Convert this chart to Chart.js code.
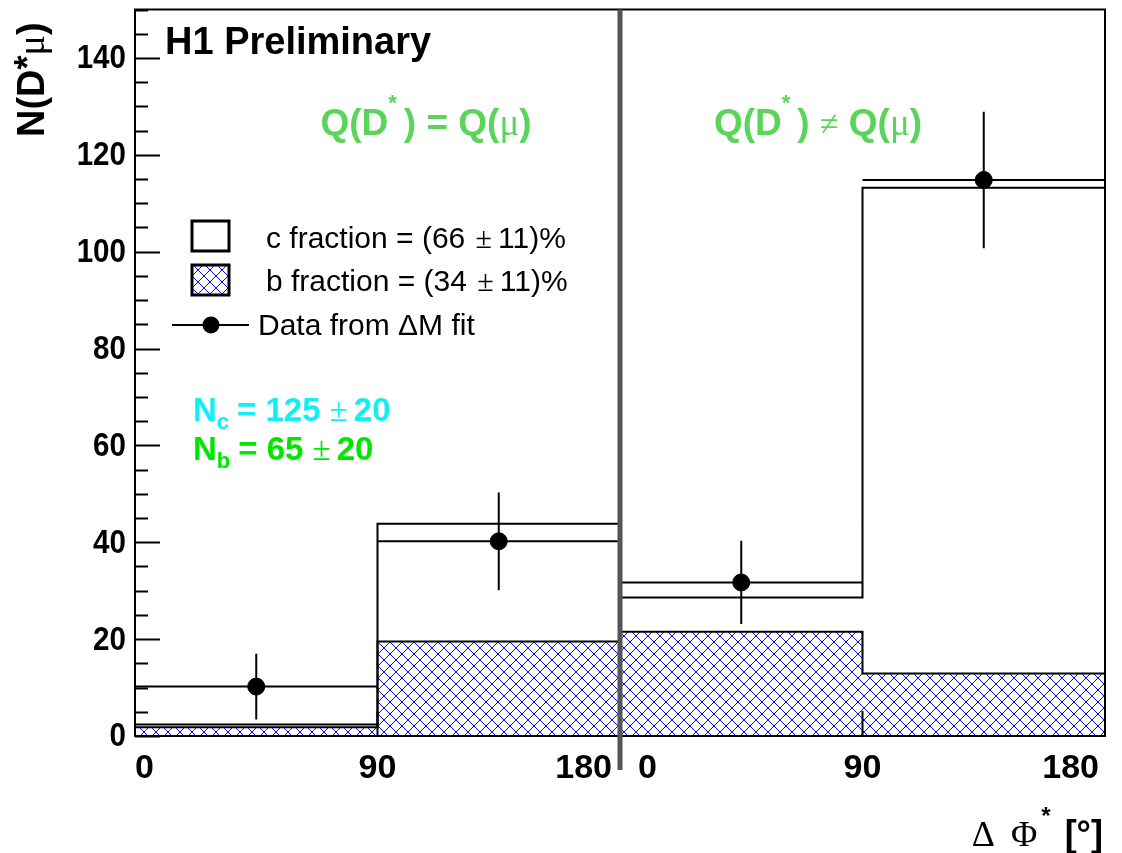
<!DOCTYPE html>
<html>
<head>
<meta charset="utf-8">
<script src="https://cdn.jsdelivr.net/npm/chart.js@4.4.1/dist/chart.umd.min.js"></script>
<style>
  html, body { margin: 0; padding: 0; background: #fff; }
  #wrap { width: 1122px; height: 853px; }
</style>
</head>
<body>
<div id="wrap"><canvas id="dphiChart" width="1122" height="853"></canvas></div>
<script>
// Two panes side by side: Q(D*) = Q(mu) on 0..180, Q(D*) != Q(mu) on 180..360
const binEdges = [0, 90, 180, 270, 360];
const binCenters = [45, 135, 225, 315];
const totalCB = [2.4, 43.8, 28.6, 113.2];   // c + b histogram
const bOnly = [1.8, 19.5, 21.5, 12.9];      // b histogram (hatched)
const dataY = [10.2, 40.2, 31.7, 114.8];    // data from Delta M fit
const dataErr = [6.8, 10.1, 8.6, 14.1];
const xTickVals = [0, 90, 180];
const yTickVals = [0, 20, 40, 60, 80, 100, 120, 140];

const SANS = '"Liberation Sans", Arial, Helvetica, sans-serif';
const SERIF = '"Liberation Serif", "Times New Roman", serif';

// blue cross hatch like ROOT fill style 3144
function makeHatch() {
  const c = document.createElement("canvas");
  c.width = 12;
  c.height = 12;
  const g = c.getContext("2d");
  g.strokeStyle = "#0a0aff";
  g.lineWidth = 1;
  g.beginPath();
  g.moveTo(0, 0); g.lineTo(12, 12);
  g.moveTo(0, 12); g.lineTo(12, 0);
  g.stroke();
  return g.createPattern(c, "repeat");
}
const hatch = makeHatch();

// step points at bin edges, last edge repeats last value
function stepPoints(vals) {
  return binEdges.map((x, i) => ({ x: x, y: vals[Math.min(i, vals.length - 1)] }));
}

// draw a run of text pieces with different fonts / offsets
function drawRich(ctx, x, y, runs, align) {
  let w = 0;
  runs.forEach((r) => {
    ctx.font = r.font;
    w += ctx.measureText(r.t).width + (r.gap || 0);
  });
  let cx = align === "center" ? x - w / 2 : align === "right" ? x - w : x;
  runs.forEach((r) => {
    ctx.font = r.font;
    ctx.fillStyle = r.color || "#000";
    ctx.textAlign = "left";
    ctx.textBaseline = "alphabetic";
    ctx.fillText(r.t, cx, y + (r.dy || 0));
    cx += ctx.measureText(r.t).width + (r.gap || 0);
  });
}

const decorPlugin = {
  id: "decor",
  beforeDatasetDraw(chart, args) {
    if (args.index !== 2) return;
    // error bars under the markers
    const { ctx, scales: { x, y } } = chart;
    ctx.save();
    ctx.strokeStyle = "#000";
    ctx.lineWidth = 2;
    ctx.beginPath();
    binCenters.forEach((c, i) => {
      const px = x.getPixelForValue(c);
      const py = y.getPixelForValue(dataY[i]);
      ctx.moveTo(x.getPixelForValue(binEdges[i]), py);
      ctx.lineTo(x.getPixelForValue(binEdges[i + 1]), py);
      ctx.moveTo(px, y.getPixelForValue(dataY[i] + dataErr[i]));
      ctx.lineTo(px, y.getPixelForValue(dataY[i] - dataErr[i]));
    });
    ctx.stroke();
    ctx.restore();
  },
  afterDraw(chart) {
    const { ctx, chartArea: a, scales: { x, y } } = chart;
    ctx.save();

    // frame
    ctx.strokeStyle = "#000";
    ctx.lineWidth = 2;
    ctx.strokeRect(a.left, a.top, a.right - a.left, a.bottom - a.top);

    // y ticks: major every 20, minor every 5
    ctx.beginPath();
    for (let v = 0; v <= 150; v += 5) {
      const py = Math.round(y.getPixelForValue(v)) + 0.5;
      const len = v % 20 === 0 ? 25 : 13;
      ctx.moveTo(a.left, py);
      ctx.lineTo(a.left + len, py);
    }
    // x ticks in each pane
    [0, 180].forEach((off) => {
      xTickVals.forEach((t) => {
        const px = x.getPixelForValue(off + t);
        ctx.moveTo(px, a.bottom);
        ctx.lineTo(px, a.bottom - 25);
      });
    });
    ctx.stroke();

    // y tick labels (a bit narrow, like the original)
    ctx.fillStyle = "#000";
    ctx.font = "bold 34px " + SANS;
    ctx.textAlign = "right";
    ctx.textBaseline = "middle";
    yTickVals.forEach((v) => {
      ctx.save();
      ctx.translate(a.left - 9, y.getPixelForValue(v) + 1);
      ctx.scale(0.87, 1);
      ctx.fillText(String(v), 0, 0);
      ctx.restore();
    });

    // x tick labels
    ctx.font = "bold 34px " + SANS;
    ctx.textBaseline = "alphabetic";
    [0, 180].forEach((off) => {
      xTickVals.forEach((t) => {
        const px = x.getPixelForValue(off + t);
        ctx.textAlign = t === 0 ? "left" : t === 180 ? "right" : "center";
        let dx = 0;
        if (t === 0) dx = off === 0 ? 0 : 18;
        if (t === 180) dx = off === 0 ? -8 : -6;
        ctx.fillText(String(t), px + dx, 778);
      });
    });

    // pane divider
    const mid = x.getPixelForValue(180);
    ctx.fillStyle = "#555";
    ctx.fillRect(mid - 2.5, a.top, 5, 770 - a.top);

    // axis titles
    ctx.save();
    ctx.translate(44, 137);
    ctx.rotate(-Math.PI / 2);
    drawRich(ctx, 0, 0, [
      { t: "N(D", font: "bold 38px " + SANS },
      { t: "*", font: "bold 36px " + SANS, dy: -4 },
      { t: "\u03bc", font: "38px " + SERIF },
      { t: ")", font: "bold 38px " + SANS },
    ], "left");
    ctx.restore();

    drawRich(ctx, 1103, 846, [
      { t: "\u0394", font: "36px " + SERIF, gap: 16 },
      { t: "\u03a6", font: "36px " + SERIF, gap: 4 },
      { t: "*", font: "bold 24px " + SANS, dy: -22, gap: 14 },
      { t: "[\u00b0]", font: "bold 36px " + SANS },
    ], "right");

    // labels
    ctx.fillStyle = "#000";
    ctx.font = "bold 38px " + SANS;
    ctx.textAlign = "left";
    ctx.fillText("H1 Preliminary", 165, 54);

    const qg = "#5ad45a";
    const qf = "bold 37px " + SANS;
    drawRich(ctx, 426, 135, [
      { t: "Q(D", font: qf, color: qg },
      { t: "*", font: "bold 22px " + SANS, color: qg, dy: -25, gap: 7 },
      { t: ") = Q(", font: qf, color: qg },
      { t: "\u03bc", font: "37px " + SERIF, color: qg },
      { t: ")", font: qf, color: qg },
    ], "center");
    drawRich(ctx, 818, 135, [
      { t: "Q(D", font: qf, color: qg },
      { t: "*", font: "bold 22px " + SANS, color: qg, dy: -25, gap: 7 },
      { t: ") ", font: qf, color: qg },
      { t: "\u2260", font: "34px " + SERIF, color: qg },
      { t: " Q(", font: qf, color: qg },
      { t: "\u03bc", font: "37px " + SERIF, color: qg },
      { t: ")", font: qf, color: qg },
    ], "center");

    // legend
    ctx.lineWidth = 3;
    ctx.strokeStyle = "#000";
    ctx.fillStyle = "#fff";
    ctx.fillRect(192, 221, 37, 30);
    ctx.strokeRect(192, 221, 37, 30);
    ctx.fillStyle = hatch;
    ctx.fillRect(192, 265, 37, 30);
    ctx.strokeRect(192, 265, 37, 30);
    ctx.lineWidth = 2;
    ctx.beginPath();
    ctx.moveTo(172, 325);
    ctx.lineTo(249, 325);
    ctx.stroke();
    ctx.fillStyle = "#000";
    ctx.beginPath();
    ctx.arc(211, 325, 8.5, 0, Math.PI * 2);
    ctx.fill();

    const lf = "30px " + SANS;
    drawRich(ctx, 266, 248, [
      { t: "c fraction = (66 ", font: lf, gap: 2 },
      { t: "\u00b1", font: "30px " + SERIF, gap: 6 },
      { t: "11)%", font: lf },
    ], "left");
    drawRich(ctx, 266, 291, [
      { t: "b fraction = (34 ", font: lf, gap: 2 },
      { t: "\u00b1", font: "30px " + SERIF, gap: 6 },
      { t: "11)%", font: lf },
    ], "left");
    drawRich(ctx, 258, 335, [
      { t: "Data from \u0394M fit", font: lf },
    ], "left");

    // yields
    const cy = "#10eef8";
    const gr = "#00e600";
    drawRich(ctx, 193, 421, [
      { t: "N", font: "bold 33px " + SANS, color: cy },
      { t: "c", font: "bold 22px " + SANS, color: cy, dy: 8, gap: 8 },
      { t: "= 125 ", font: "bold 33px " + SANS, color: cy },
      { t: "\u00b1", font: "33px " + SERIF, color: cy, gap: 6 },
      { t: "20", font: "bold 33px " + SANS, color: cy },
    ], "left");
    drawRich(ctx, 193, 460, [
      { t: "N", font: "bold 33px " + SANS, color: gr },
      { t: "b", font: "bold 22px " + SANS, color: gr, dy: 8, gap: 8 },
      { t: "= 65 ", font: "bold 33px " + SANS, color: gr },
      { t: "\u00b1", font: "33px " + SERIF, color: gr, gap: 6 },
      { t: "20", font: "bold 33px " + SANS, color: gr },
    ], "left");

    ctx.restore();
  },
};

const ctx = document.getElementById("dphiChart").getContext("2d");
new Chart(ctx, {
  type: "line",
  data: {
    datasets: [
      {
        label: "b fraction",
        data: stepPoints(bOnly),
        stepped: true,
        fill: "origin",
        backgroundColor: hatch,
        borderColor: "#000",
        borderWidth: 2,
        pointRadius: 0,
        order: 2,
      },
      {
        label: "c fraction",
        data: stepPoints(totalCB),
        stepped: true,
        fill: false,
        borderColor: "#000",
        borderWidth: 2,
        pointRadius: 0,
        order: 1,
      },
      {
        type: "scatter",
        label: "Data from \u0394M fit",
        data: binCenters.map((c, i) => ({ x: c, y: dataY[i] })),
        pointRadius: 8.5,
        pointBackgroundColor: "#000",
        pointBorderColor: "#000",
        order: 0,
      },
    ],
  },
  options: {
    responsive: false,
    animation: false,
    events: [],
    layout: { padding: { top: 8, right: 17, bottom: 117, left: 135 } },
    plugins: { legend: { display: false }, tooltip: { enabled: false } },
    scales: {
      x: { type: "linear", min: 0, max: 360, display: false },
      y: { min: 0, max: 150, display: false },
    },
  },
  plugins: [decorPlugin],
});
</script>
</body>
</html>
